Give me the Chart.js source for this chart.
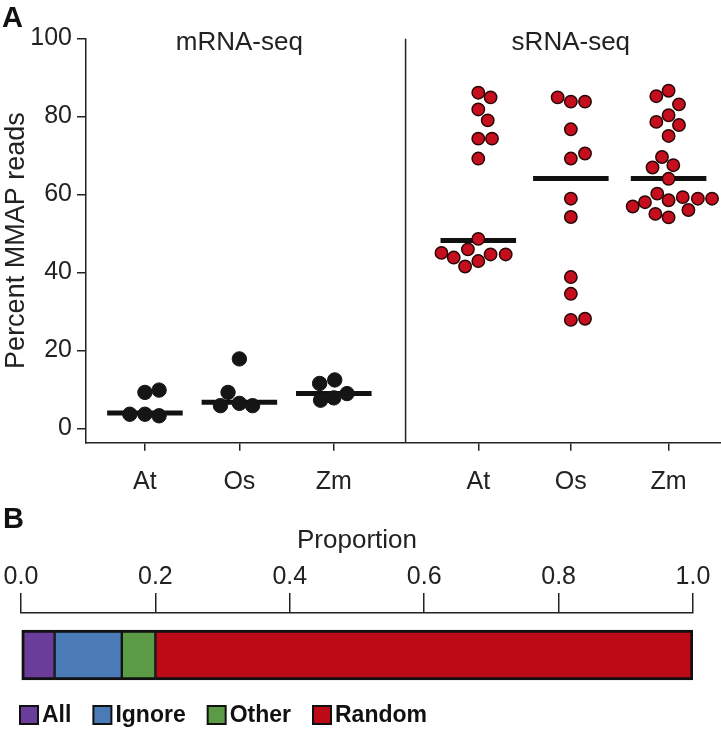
<!DOCTYPE html>
<html>
<head>
<meta charset="utf-8">
<title>MMAP reads</title>
<script src="https://cdn.jsdelivr.net/npm/chart.js@4.4.1/dist/chart.umd.min.js"></script>
<style>
  html, body { margin: 0; padding: 0; background: #fff; }
  #wrap { position: relative; width: 721px; height: 731px; overflow: hidden; font-family: "Liberation Sans", Arial, sans-serif; }
  .panel-tag { position: absolute; font-weight: bold; font-size: 29px; line-height: 1; color: #111; }
  #scatterBox { position: absolute; left: 0; top: 0; width: 721px; height: 500px; }
  #barBox { position: absolute; left: 0; top: 500px; width: 721px; height: 231px; }
</style>
</head>
<body>
<div id="wrap">
  <div id="scatterBox"><canvas id="mmapChart" width="721" height="500"></canvas></div>
  <div id="barBox"><canvas id="propChart" width="721" height="231"></canvas></div>
  <div class="panel-tag" style="left:2px;top:3px">A</div>
  <div class="panel-tag" style="left:3px;top:504px">B</div>
</div>
<script>
// ---- data ----
const speciesLabels = ['At', 'Os', 'Zm'];
const panelTitles = ['mRNA-seq', 'sRNA-seq'];
const yTicks = [0, 20, 40, 60, 80, 100];

// percent MMAP reads per library, with horizontal swarm offsets
const mrnaAt = [3.6, 3.6, 3.2, 9.2, 9.8];
const mrnaAtJitter = [-0.16, 0, 0.15, 0, 0.15];
const mrnaOs = [5.8, 17.8, 9.2, 6.4, 5.8];
const mrnaOsJitter = [-0.2, 0, -0.12, 0, 0.14];
const mrnaZm = [11.5, 12.4, 7.2, 7.8, 8.9];
const mrnaZmJitter = [-0.15, 0.01, -0.14, 0, 0.14];

const srnaAt = [86.1, 84.9, 81.8, 79.0, 74.3, 74.3, 69.2, 48.6, 45.9, 45.0, 43.8, 41.5, 42.9, 44.6, 44.6];
const srnaAtJitter = [0, 0.13, 0, 0.1, 0, 0.145, 0, 0, -0.11, -0.39, -0.26, -0.14, 0, 0.13, 0.29];
const srnaOs = [84.9, 83.8, 83.8, 76.7, 70.5, 69.2, 58.9, 54.2, 38.8, 34.5, 27.8, 28.1];
const srnaOsJitter = [-0.14, 0, 0.15, 0, 0.15, 0, 0, 0, 0, 0, 0, 0.15];
const srnaZm = [85.2, 86.6, 83.1, 78.6, 80.3, 77.8, 75.0, 69.6, 66.9, 67.5, 64.0,
                56.9, 58.0, 60.2, 58.5, 59.3, 58.9, 58.9, 56.0, 55.0, 54.1];
const srnaZmJitter = [-0.13, 0, 0.11, -0.13, 0, 0.11, 0, -0.07, -0.17, 0.05, 0,
                      -0.38, -0.25, -0.12, 0, 0.15, 0.31, 0.46, 0.21, -0.14, 0];

// horizontal bar per group (as drawn in the figure)
const groupLines = [3.9, 6.7, 8.9, 48.2, 64.1, 64.1];

// panel B
const propLabels = ['All', 'Ignore', 'Other', 'Random'];
const propValues = [0.05, 0.10, 0.05, 0.80];
const propTicks = [0, 0.2, 0.4, 0.6, 0.8, 1.0];

// ---- layout ----
const groupX = [1, 2, 3, 4.53, 5.51, 6.545];
const dividerX = 3.76;
const yMin = -3.7;
const lineHalf = 0.4;
const inkColor = '#222';
const fontFamily = '"Liberation Sans", Arial, sans-serif';
const propColors = ['#6a3d9a', '#4a7bb7', '#5b9b45', '#bc0a17'];

const mrnaGroups = [[mrnaAt, mrnaAtJitter], [mrnaOs, mrnaOsJitter], [mrnaZm, mrnaZmJitter]];
const srnaGroups = [[srnaAt, srnaAtJitter], [srnaOs, srnaOsJitter], [srnaZm, srnaZmJitter]];

function swarmPoints(groups, offset) {
    const pts = [];
    groups.forEach(([vals, jit], g) => {
        vals.forEach((v, i) => pts.push({ x: groupX[offset + g] + jit[i], y: v }));
    });
    return pts;
}

const lineSets = groupLines.map((m, i) => ({
    type: 'scatter',
    showLine: true,
    data: [{ x: groupX[i] - lineHalf, y: m }, { x: groupX[i] + lineHalf, y: m }],
    borderColor: '#111',
    borderWidth: 5,
    borderCapStyle: 'butt',
    pointRadius: 0,
    order: 2
}));

const panelTitlePlugin = {
    id: 'panelTitles',
    afterDraw(chart) {
        const { ctx, chartArea, scales } = chart;
        ctx.save();
        ctx.font = '26px ' + fontFamily;
        ctx.fillStyle = inkColor;
        ctx.textAlign = 'center';
        ctx.textBaseline = 'alphabetic';
        panelTitles.forEach((t, i) => {
            ctx.fillText(t, scales.x.getPixelForValue(groupX[i * 3 + 1]), chartArea.top + 11);
        });
        ctx.restore();
    }
};

new Chart(document.getElementById('mmapChart'), {
    type: 'scatter',
    data: {
        datasets: [
            {
                showLine: true,
                data: [{ x: dividerX, y: yMin }, { x: dividerX, y: 100 }],
                borderColor: inkColor,
                borderWidth: 1.5,
                pointRadius: 0,
                order: 3
            },
            ...lineSets,
            {
                data: swarmPoints(mrnaGroups, 0),
                backgroundColor: '#151515',
                borderColor: '#151515',
                borderWidth: 1,
                pointRadius: 7.2,
                order: 1
            },
            {
                data: swarmPoints(srnaGroups, 3),
                backgroundColor: '#c50f1e',
                borderColor: '#2a0606',
                borderWidth: 1.5,
                pointRadius: 6.2,
                order: 1
            }
        ]
    },
    options: {
        responsive: false,
        animation: false,
        layout: { autoPadding: false, padding: { top: 38.5, left: 0, right: 0, bottom: 0 } },
        plugins: { legend: { display: false }, tooltip: { enabled: false } },
        scales: {
            x: {
                type: 'linear',
                min: 0.376,
                max: 7.1,
                afterBuildTicks: axis => { axis.ticks = groupX.map(v => ({ value: v })); },
                afterFit: axis => {
                    axis.height = 57.3;
                    axis.paddingLeft = 0;
                    axis.paddingRight = 0;
                },
                ticks: {
                    autoSkip: false,
                    maxRotation: 0,
                    padding: 16,
                    color: inkColor,
                    font: { family: fontFamily, size: 25 },
                    callback: (v, i) => speciesLabels[i % 3]
                },
                grid: { drawOnChartArea: false, tickLength: 8, color: inkColor, lineWidth: 1.5 },
                border: { display: true, color: inkColor, width: 1.5 }
            },
            y: {
                min: yMin,
                max: 100,
                afterBuildTicks: axis => { axis.ticks = yTicks.map(v => ({ value: v })); },
                afterFit: axis => { axis.width = 86; },
                ticks: { padding: 5, color: inkColor, font: { family: fontFamily, size: 25 } },
                grid: { drawOnChartArea: false, tickLength: 9, color: inkColor, lineWidth: 1.5 },
                border: { display: true, color: inkColor, width: 1.5 },
                title: {
                    display: true,
                    text: 'Percent MMAP reads',
                    color: inkColor,
                    font: { family: fontFamily, size: 27 },
                    padding: { top: 0, bottom: 0 }
                }
            }
        }
    },
    plugins: [panelTitlePlugin]
});

// legend boxes drawn under the bar
const boxLegendPlugin = {
    id: 'boxLegend',
    afterDraw(chart) {
        const { ctx, chartArea } = chart;
        const y = chartArea.bottom + 18;
        let x = 20;
        ctx.save();
        ctx.font = 'bold 23px ' + fontFamily;
        ctx.textBaseline = 'middle';
        chart.data.datasets.forEach(ds => {
            ctx.fillStyle = ds.backgroundColor;
            ctx.fillRect(x, y - 9, 18, 18);
            ctx.lineWidth = 2;
            ctx.strokeStyle = '#111';
            ctx.strokeRect(x, y - 9, 18, 18);
            ctx.fillStyle = '#111';
            ctx.fillText(ds.label, x + 22, y + 1);
            x += 22 + ctx.measureText(ds.label).width + 22;
        });
        ctx.restore();
    }
};

const lastProp = propLabels.length - 1;
new Chart(document.getElementById('propChart'), {
    type: 'bar',
    data: {
        labels: [''],
        datasets: propLabels.map((label, i) => ({
            label: label,
            data: [propValues[i]],
            backgroundColor: propColors[i],
            borderColor: '#111',
            borderWidth: { top: 3, bottom: 3, left: i === 0 ? 3 : 1.5, right: i === lastProp ? 3 : 1.5 },
            borderSkipped: false,
            barThickness: 50
        }))
    },
    options: {
        indexAxis: 'y',
        responsive: false,
        animation: false,
        layout: { padding: { top: 0, left: 0, right: 28, bottom: 34 } },
        plugins: { legend: { display: false }, tooltip: { enabled: false } },
        scales: {
            x: {
                type: 'linear',
                position: 'top',
                stacked: true,
                min: 0,
                max: 1,
                afterBuildTicks: axis => { axis.ticks = propTicks.map(v => ({ value: v })); },
                afterFit: axis => {
                    axis.height = 113;
                    axis.paddingLeft = 0;
                    axis.paddingRight = 0;
                },
                ticks: {
                    padding: 1,
                    color: inkColor,
                    font: { family: fontFamily, size: 25 },
                    callback: v => v.toFixed(1)
                },
                grid: { drawOnChartArea: false, tickLength: 20, color: inkColor, lineWidth: 1.5 },
                border: { display: true, color: inkColor, width: 1.5 },
                title: {
                    display: true,
                    text: 'Proportion',
                    color: inkColor,
                    font: { family: fontFamily, size: 26 },
                    padding: { top: 25, bottom: 0 }
                }
            },
            y: {
                stacked: true,
                afterFit: axis => { axis.width = 21; },
                ticks: { display: false },
                grid: { display: false },
                border: { display: false }
            }
        }
    },
    plugins: [boxLegendPlugin]
});
</script>
</body>
</html>
